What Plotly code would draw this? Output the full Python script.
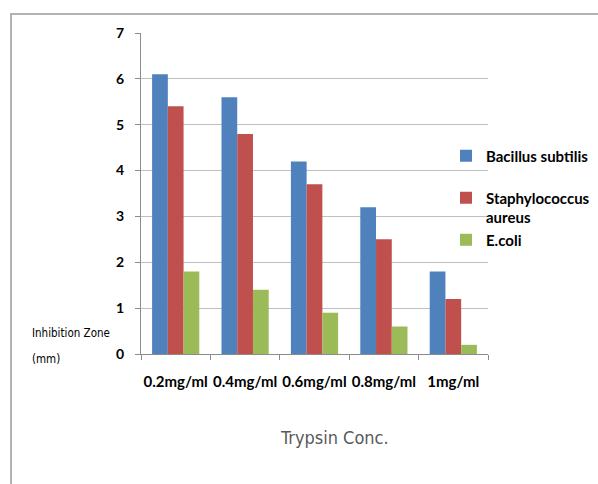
import plotly.graph_objects as go

categories = ["0.2mg/ml", "0.4mg/ml", "0.6mg/ml", "0.8mg/ml", "1mg/ml"]
bacillus = [6.1, 5.6, 4.2, 3.2, 1.8]
staph = [5.4, 4.8, 3.7, 2.5, 1.2]
ecoli = [1.8, 1.4, 0.9, 0.6, 0.2]
y_ticks = [0, 1, 2, 3, 4, 5, 6, 7]

W, H = 598, 484
L, R, T, B = 141, 110, 33, 130
pw, ph = W - L - R, H - T - B

def px(x):
    return (x - L) / pw

def py(y):
    return (H - B - y) / ph

sans = "Lato, 'Open Sans', sans-serif"
narrow = "'Liberation Sans Narrow', 'DejaVu Sans Condensed', 'Arial Narrow', 'Liberation Sans', sans-serif"

fig = go.Figure()
series = [
    ("Bacillus subtilis<br> ", bacillus, "#4F81BD"),
    ("Staphylococcus<br>aureus", staph, "#C0504D"),
    ("E.coli", ecoli, "#9BBB59"),
]
for i, (name, vals, col) in enumerate(series):
    fig.add_trace(go.Bar(x=categories, y=vals, name=name, marker_color=col,
                         marker_line_width=0, legendgroup=f"g{i}"))

fig.update_layout(
    width=W, height=H,
    margin=dict(l=L, r=R, t=T, b=B, autoexpand=False),
    paper_bgcolor="white", plot_bgcolor="white",
    barmode="group", bargap=0.32, bargroupgap=0,
    font=dict(family=sans, size=13, color="#000000"),
    legend=dict(x=px(446), y=py(139.5), xanchor="left", yanchor="top",
                font=dict(family=sans, size=15, color="#000000", weight="bold"),
                bgcolor="rgba(0,0,0,0)", tracegroupgap=8, valign="top",
                itemwidth=30, traceorder="normal"),
    xaxis=dict(showgrid=False, showline=True, linecolor="#8C8C8C", linewidth=1,
               ticks="outside", ticklen=5, tickcolor="#8C8C8C", tickson="boundaries",
               tickangle=0,
               tickfont=dict(family=sans, size=15, color="#000000", weight="bold"),
               ticklabelstandoff=14),
    yaxis=dict(range=[0, 7], tickvals=y_ticks, showgrid=True, gridcolor="#BFBFBF", gridwidth=1.2,
               showline=True, linecolor="#8C8C8C", linewidth=1,
               ticks="outside", ticklen=5, tickcolor="#8C8C8C", zeroline=False,
               tickfont=dict(family=sans, size=14, color="#000000", weight="bold"),
               ticklabelstandoff=8),
    showlegend=True,
)

# y-axis title, drawn as two lines with wide spacing
for txt, yy in [("Inhibition Zone", 333), ("(mm)", 359)]:
    fig.add_annotation(text=txt, xref="paper", yref="paper",
                       x=px(30), y=py(yy), xanchor="left", yanchor="middle", align="left",
                       showarrow=False, font=dict(family=narrow, size=11.5, color="#000000"))
fig.add_annotation(text="Trypsin Conc.", xref="paper", yref="paper",
                   x=px(334), y=py(437), xanchor="center", yanchor="middle",
                   showarrow=False, font=dict(family=narrow, size=18, color="#595959"))

fig.add_shape(type="rect", xref="paper", yref="paper",
              x0=px(11), x1=px(610), y0=py(500), y1=py(14),
              line=dict(color="#9A9A9A", width=1.5), fillcolor="rgba(0,0,0,0)", layer="below")

fig.write_html("out.html")
